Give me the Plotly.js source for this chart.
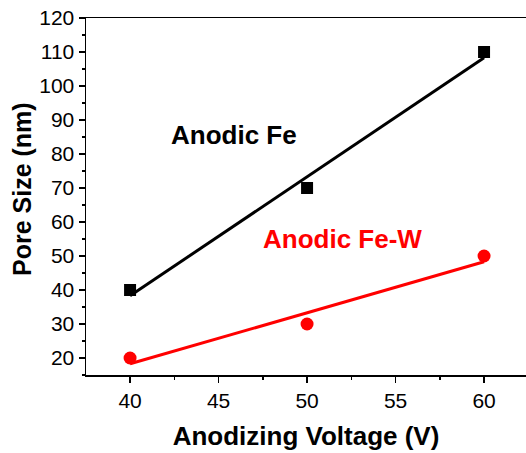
<!DOCTYPE html>
<html>
<head>
<meta charset="utf-8">
<script src="https://cdn.plot.ly/plotly-3.0.1.min.js"></script>
<style>html,body{margin:0;padding:0;background:#fff;}#chart{width:526px;height:453px;}</style>
</head>
<body>
<div id="chart"></div>
<script>
const voltage = [40, 50, 60];
const poreFe = [40, 70, 110];
const poreFeW = [20, 30, 50];
const fitX = [40, 60];
const fitFe = [38.3, 108.3];
const fitFeW = [18.3, 48.3];
const xTicks = [40, 45, 50, 55, 60];
const yTicks = [20, 30, 40, 50, 60, 70, 80, 90, 100, 110, 120];

const font = 'Liberation Sans, Arial, Helvetica, sans-serif';

const data = [
  {x: fitX, y: fitFe, mode: 'lines', line: {color: '#000', width: 3}, hoverinfo: 'skip'},
  {x: fitX, y: fitFeW, mode: 'lines', line: {color: '#ff0000', width: 3}, hoverinfo: 'skip'},
  {x: voltage, y: poreFe, mode: 'markers', marker: {symbol: 'square', size: 12, color: '#000'}},
  {x: voltage, y: poreFeW, mode: 'markers', marker: {symbol: 'circle', size: 13, color: '#ff0000'}}
];

const axisCommon = {
  showgrid: false, zeroline: false, showline: true, linecolor: '#000', linewidth: 1.5,
  mirror: true, ticks: 'outside', ticklen: 6, tickwidth: 1.5, tickcolor: '#000',
  tickfont: {family: font, size: 21, color: '#000'}
};

const layout = {
  width: 526, height: 453,
  margin: {l: 86, r: 0, t: 18, b: 78},
  paper_bgcolor: '#fff', plot_bgcolor: '#fff',
  showlegend: false,
  xaxis: Object.assign({}, axisCommon, {
    range: [37.51, 62.37], tickmode: 'array', tickvals: xTicks, ticktext: xTicks.map(String),
    minor: {dtick: 2.5, ticks: 'outside', ticklen: 3, tickwidth: 1.5, tickcolor: '#000'},
    title: {text: '<b>Anodizing Voltage (V)</b>', font: {family: font, size: 26, color: '#000'}, standoff: 16}
  }),
  yaxis: Object.assign({}, axisCommon, {
    range: [15, 120], tickmode: 'array', tickvals: yTicks, ticktext: yTicks.map(String),
    minor: {dtick: 5, ticks: 'outside', ticklen: 3, tickwidth: 1.5, tickcolor: '#000'}
  }),
  annotations: [
    {x: 0, y: 0.521, xref: 'paper', yref: 'paper', xanchor: 'center', yanchor: 'middle',
     xshift: -64, textangle: -90, text: '<b>Pore Size (nm)</b>', showarrow: false,
     font: {family: font, size: 25, color: '#000'}},
    {x: 45.85, y: 85.6, xref: 'x', yref: 'y', text: '<b>Anodic Fe</b>', showarrow: false,
     font: {family: font, size: 26, color: '#000'}},
    {x: 51.98, y: 55.1, xref: 'x', yref: 'y', text: '<b>Anodic Fe-W</b>', showarrow: false,
     font: {family: font, size: 26, color: '#ff0000'}}
  ]
};

Plotly.newPlot('chart', data, layout, {displayModeBar: false, staticPlot: true});
</script>
</body>
</html>
